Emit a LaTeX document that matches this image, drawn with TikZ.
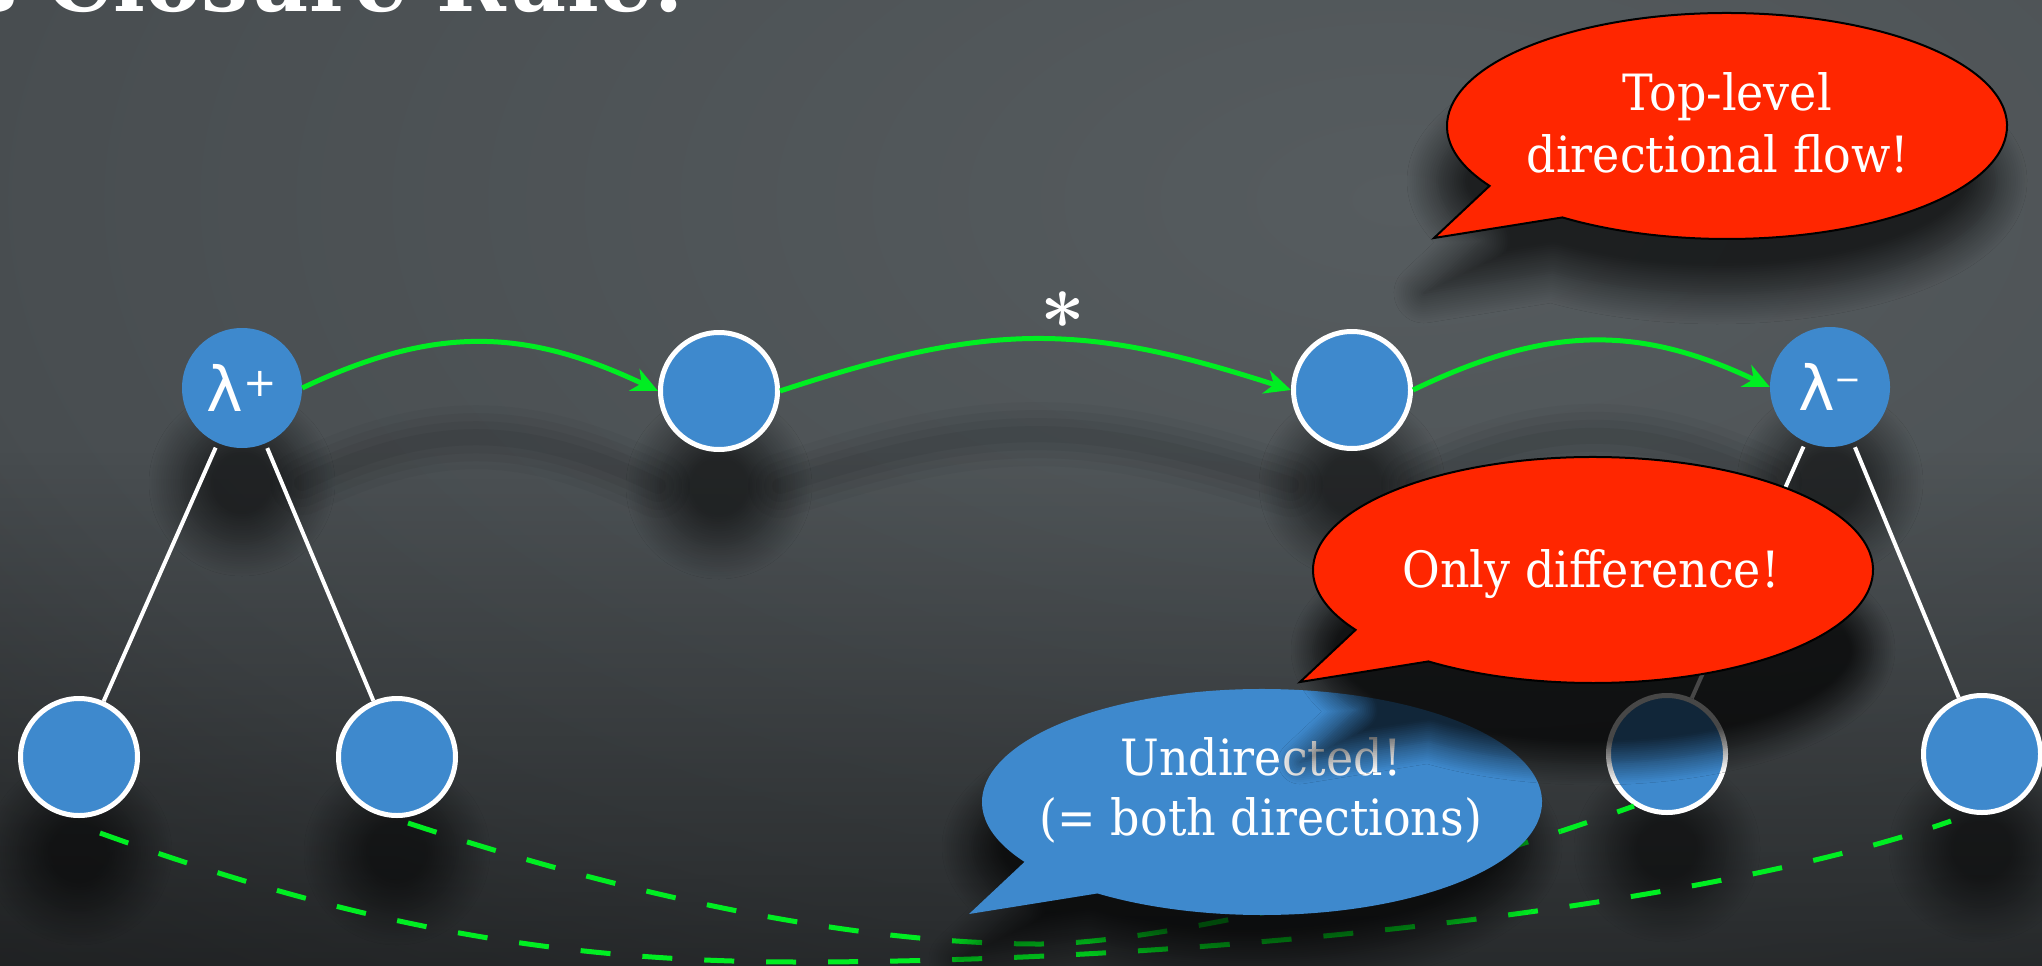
\documentclass[tikz,border=0pt]{standalone}
\usepackage{fontspec}
\usepackage{graphicx}
\usetikzlibrary{arrows.meta,shadows.blur,fadings}

\newfontfamily\bubblefont[FakeStretch=0.92]{DejaVu Serif}
\newfontfamily\lambdafont{DejaVu Sans}
\newfontfamily\titlefont{DejaVu Serif}

\definecolor{nodeblue}{RGB}{62,137,205}
\definecolor{bubred}{RGB}{255,38,0}
\definecolor{flowgreen}{RGB}{0,238,34}
\definecolor{bgA}{RGB}{86,92,95}
\definecolor{bgB}{RGB}{72,77,80}
\definecolor{bgC}{RGB}{42,44,46}
\definecolor{bgD}{RGB}{22,22,22}

\pgfdeclareradialshading{backdrop}{\pgfpoint{0bp}{0bp}}{%
  color(0bp)=(bgA); color(20bp)=(bgB); color(36bp)=(bgC);
  color(50bp)=(bgD); color(72bp)=(bgD)}

% speech bubble: ellipse with a tail pointing down-left, #1 = centre
\newcommand\bubbleoutline[1]{%
  ([shift={(148:280 and 113)}]#1)
  arc[start angle=148, end angle=486, x radius=280, y radius=113]
  -- ([shift={(-293,112)}]#1) -- cycle}

\begin{document}
\begin{tikzpicture}[x=1pt, y=-1pt,
  vertex/.style={circle, fill=nodeblue, draw=white, line width=5pt,
    minimum size=117pt, inner sep=0pt},
  lamnode/.style={circle, fill=nodeblue, minimum size=120pt, inner sep=0pt,
    text=white, font=\lambdafont\fontsize{62}{62}\selectfont},
  treeedge/.style={white, line width=4pt},
  flow/.style={flowgreen, line width=5pt,
    -{Stealth[length=26pt, width=24pt, inset=8pt]}},
  undirected/.style={flowgreen, line width=5pt, dash pattern=on 30pt off 32pt},
  bubbletext/.style={text=white, inner sep=0pt,
    font=\bubblefont\fontsize{50}{61}\selectfont},
  nodeshadow/.style={blur shadow={shadow xshift=0pt, shadow yshift=-95pt,
    shadow blur radius=32pt, shadow blur steps=14, shadow opacity=55}},
  redbubble/.style={fill=bubred, draw=black, line width=2pt},
  bluebubble/.style={fill=nodeblue},
]
\useasboundingbox (0,0) rectangle (2042,966);
\clip (0,0) rectangle (2042,966);

% backdrop: light patch upper right, darker towards the left and bottom
\shade[shading=backdrop] (1400-1800,200-950) rectangle (1400+1800,200+950);
\fill[black, opacity=0.45, path fading=north] (-10,450) rectangle (2052,976);

% heading, running off the top edge
\node[anchor=base west, inner sep=0pt, text=white,
  font=\titlefont\bfseries\fontsize{84}{84}\selectfont] (title) at (-30,12)
  {s Closure Rule:};

% vertex positions
\coordinate (pLp) at (242,388);
\coordinate (pN2) at (719,391);
\coordinate (pN3) at (1352,390);
\coordinate (pLm) at (1830,387);
\coordinate (pN4) at (79,757);
\coordinate (pN5) at (397,757);
\coordinate (pN6) at (1667,754);
\coordinate (pN7) at (1982,754);

% soft shadows under the vertices
\foreach \p in {pLp,pN2,pN3,pLm,pN4,pN5,pN6,pN7}
  \path[nodeshadow] (\p) circle[radius=61];

% soft shadows under the top-level arcs
\begin{scope}[transform canvas={yshift=-95pt}]
  \foreach \w/\o in {64/0.03,48/0.04,32/0.045,16/0.05} {
    \draw[black, line width=\w pt, opacity=\o, line cap=round]
      ([shift={(60,0)}]pLp) .. controls (435,325) and (525,328) .. ([shift={(-61,0)}]pN2);
    \draw[black, line width=\w pt, opacity=\o, line cap=round]
      ([shift={(61,0)}]pN2) .. controls (990,322) and (1081,322) .. ([shift={(-61,0)}]pN3);
    \draw[black, line width=\w pt, opacity=\o, line cap=round]
      ([shift={(61,0)}]pN3) .. controls (1546,326) and (1637,324) .. ([shift={(-60,0)}]pLm);
  }
\end{scope}

% vertices
\node[lamnode] (lp) at (pLp) {λ\raisebox{15pt}{\fontsize{40}{40}\selectfont +}};
\node[vertex] (n2) at (pN2) {};
\node[vertex] (n3) at (pN3) {};
\node[lamnode] (lm) at (pLm) {λ\raisebox{20pt}{\fontsize{32}{32}\selectfont −}};
\node[vertex] (n4) at (pN4) {};
\node[vertex] (n5) at (pN5) {};
\node[vertex] (n6) at (pN6) {};
\node[vertex] (n7) at (pN7) {};

% tree edges
\draw[treeedge, shorten <=5pt] (lp) -- (n4);
\draw[treeedge, shorten <=5pt] (lp) -- (n5);
\draw[treeedge, shorten <=5pt] (lm) -- (n6);
\draw[treeedge, shorten <=5pt] (lm) -- (n7);

% directed top-level flow
\draw[flow] (lp.east) .. controls (435,325) and (525,328) .. (n2.west);
\draw[flow] (n2.east) .. controls (990,322) and (1081,322) .. (n3.west);
\draw[flow] (n3.east) .. controls (1546,326) and (1637,324) .. (lm.west);
\node[inner sep=0pt, text=white] (star) at (1063,310)
  {\scalebox{7.8}{\boldmath$\ast$}};

% undirected links between the leaves
\coordinate (dipA) at (800,962);
\coordinate (dipB) at (1040,944);
\draw[undirected] ([shift={(21,76)}]n4.center)
  .. controls (350,923) and (550,962) .. (dipA)
  .. controls (1200,962) and (1701,909) .. ([shift={(-31,67)}]n7.center);
\draw[undirected] ([shift={(11,66)}]n5.center)
  .. controls (608,889) and (840,944) .. (dipB)
  .. controls (1140,944) and (1384,896) .. ([shift={(-33,52)}]n6.center);

% callouts
\coordinate (bubA) at (1727,126);
\coordinate (bubB) at (1262,802);
\coordinate (bubC) at (1593,570);

\path[redbubble, blur shadow={shadow xshift=-10pt, shadow yshift=-55pt,
  shadow blur radius=30pt, shadow blur steps=14, shadow opacity=65}]
  \bubbleoutline{bubA};
\node[bubbletext, anchor=base] (bubAline1) at (1727,110) {Top-level};
\node[bubbletext, anchor=base] (bubAline2) at (1718,172) {directional flow!};

\path[bluebubble, blur shadow={shadow xshift=-10pt, shadow yshift=-45pt,
  shadow blur radius=30pt, shadow blur steps=14, shadow opacity=70}]
  \bubbleoutline{bubB};
\node[bubbletext, anchor=base] (bubBline1) at (1261,775) {Undirected!};
\node[bubbletext, anchor=base] (bubBline2) at (1261,835) {(= both directions)};

\path[redbubble, blur shadow={shadow xshift=0pt, shadow yshift=-80pt,
  shadow blur radius=22pt, shadow blur steps=12, shadow opacity=72}]
  \bubbleoutline{bubC};
\node[bubbletext, anchor=base] (bubCline1) at (1591,587) {Only difference!};
\end{tikzpicture}
\end{document}
